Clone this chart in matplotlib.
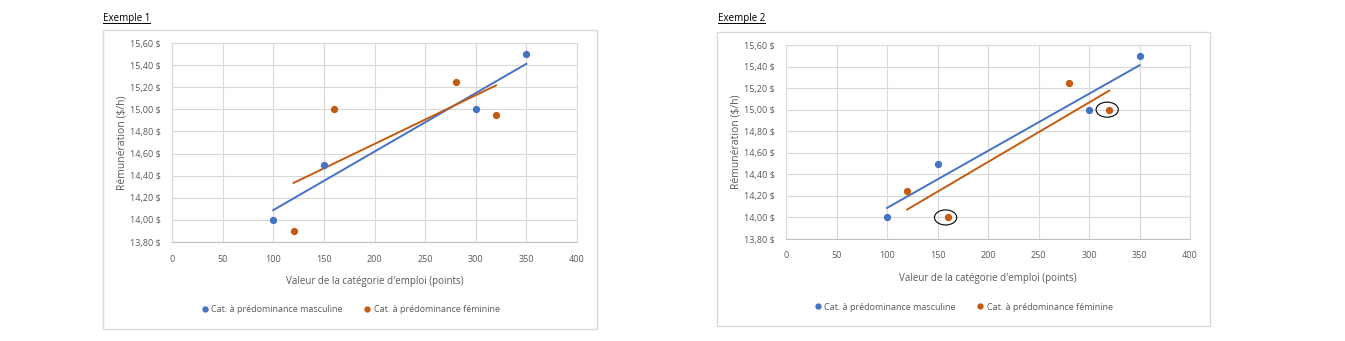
import numpy as np
import matplotlib.pyplot as plt
from matplotlib.patches import Rectangle, Ellipse
from matplotlib.lines import Line2D

plt.rcParams['font.family'] = ['Open Sans', 'DejaVu Sans']

# données
x_masc = [100, 150, 300, 350]
y_masc = [14.00, 14.50, 15.00, 15.50]
x_fem = [120, 160, 280, 320]
y_fem_1 = [13.90, 15.00, 15.25, 14.95]
y_fem_2 = [14.25, 14.00, 15.25, 15.00]
cercles_2 = [1, 3]  # points entourés dans l'exemple 2

titres = ['Exemple 1', 'Exemple 2']
lab_masc = 'Cat. à prédominance masculine'
lab_fem = 'Cat. à prédominance féminine'
xticks = np.arange(0, 401, 50)
yticks = np.arange(13.8, 15.61, 0.2)

bleu = '#4472C4'
orange = '#C55A11'
gris_txt = '#595959'
gris_grille = '#D9D9D9'

W, H = 1345, 341
fig = plt.figure(figsize=(W / 100, H / 100), dpi=100)


def px(x0, y0, x1, y1):
    # boite en pixels (haut gauche) -> coordonnees figure
    return [x0 / W, 1 - y1 / H, (x1 - x0) / W, (y1 - y0) / H]


panneaux = [
    dict(box=(103, 30, 597, 329), ax=(172, 43, 577, 242), titre=(103, 18),
         leg=(350, 310), y_fem=y_fem_1, cercles=[]),
    dict(box=(717, 32, 1210, 326), ax=(786, 45, 1190, 239), titre=(718, 18),
         leg=(963, 307), y_fem=y_fem_2, cercles=cercles_2),
]

for titre, p in zip(titres, panneaux):
    b = p['box']
    fig.patches.append(Rectangle((b[0] / W, 1 - b[3] / H), (b[2] - b[0]) / W, (b[3] - b[1]) / H,
                                 transform=fig.transFigure, fill=False,
                                 edgecolor=gris_grille, linewidth=1))
    t = fig.text(p['titre'][0] / W, 1 - p['titre'][1] / H, titre, fontsize=7,
                 color='black', va='center', ha='left')
    fig.canvas.draw()
    bb = t.get_window_extent().transformed(fig.transFigure.inverted())
    fig.lines.append(Line2D([bb.x0, bb.x1], [bb.y0 + 0.002, bb.y0 + 0.002],
                            transform=fig.transFigure, color='black', linewidth=0.7))

    ax = fig.add_axes(px(*p['ax']))
    ax.set_xlim(0, 400)
    ax.set_ylim(13.8, 15.6)
    ax.set_xticks(xticks)
    ax.set_yticks(yticks)
    ax.set_yticklabels([f'{v:.2f} $'.replace('.', ',') for v in yticks])
    ax.tick_params(length=0, labelsize=6.5, labelcolor=gris_txt)
    ax.tick_params(axis='y', pad=8)
    ax.tick_params(axis='x', pad=9)
    ax.grid(True, color=gris_grille, linewidth=0.8)
    ax.set_axisbelow(True)
    for s in ['left', 'right', 'top']:
        ax.spines[s].set_color(gris_grille)
        ax.spines[s].set_linewidth(0.8)
    ax.spines['bottom'].set_color('#BFBFBF')
    ax.spines['bottom'].set_linewidth(0.8)

    ax.set_xlabel("Valeur de la catégorie d'emploi (points)", fontsize=7, color=gris_txt, labelpad=9)
    ax.set_ylabel('Rémunération ($/h)', fontsize=7.5, color=gris_txt, labelpad=2)

    y_fem = p['y_fem']
    ax.scatter(x_masc, y_masc, s=18, color=bleu, zorder=3)
    ax.scatter(x_fem, y_fem, s=18, color=orange, zorder=3)

    # courbes de tendance lineaires
    for xs, ys, c in [(x_masc, y_masc, bleu), (x_fem, y_fem, orange)]:
        a, b0 = np.polyfit(xs, ys, 1)
        xx = np.array([min(xs), max(xs)])
        ax.plot(xx, a * xx + b0, color=c, linewidth=1.4, zorder=2)

    for i in p['cercles']:
        ax.add_patch(Ellipse((x_fem[i] - 2, y_fem[i]), 22, 0.14, fill=False,
                             edgecolor='black', linewidth=0.8, zorder=4))

    handles = [Line2D([], [], marker='o', linestyle='', color=bleu, markersize=3.5),
               Line2D([], [], marker='o', linestyle='', color=orange, markersize=3.5)]
    fig.legend(handles, [lab_masc, lab_fem], loc='center',
               bbox_to_anchor=(p['leg'][0] / W, 1 - p['leg'][1] / H), ncol=2,
               frameon=False, fontsize=6.5, labelcolor=gris_txt, handletextpad=0.2,
               columnspacing=2.2, handlelength=1)

fig.savefig('out.png', dpi=100)
